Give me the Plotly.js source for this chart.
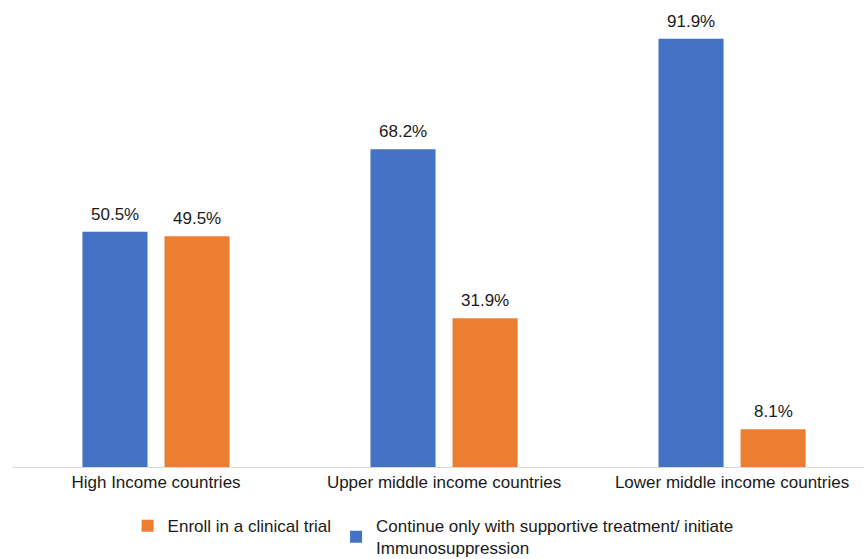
<!DOCTYPE html>
<html>
<head>
<meta charset="utf-8">
<script src="https://cdn.plot.ly/plotly-3.0.1.min.js"></script>
<style>
  html, body { margin: 0; padding: 0; background: #fff; }
  #chart { width: 864px; height: 559px; }
</style>
</head>
<body>
<div id="chart"></div>
<script>
// Income groups and share of responses per management option (%)
const categories = ["High Income countries", "Upper middle income countries", "Lower middle income countries"];
const supportive = [50.5, 68.2, 91.9];
const clinicalTrial = [49.5, 31.9, 8.1];
const supportiveName = "Continue only with supportive treatment/ initiate<br>Immunosuppression";
const trialName = "Enroll in a clinical trial";

const labelFont = { family: "Liberation Sans, Arial, sans-serif", size: 17, color: "#1a1a1a" };
const fmt = v => v.toFixed(1) + "%";

const traces = [
  {
    type: "bar",
    name: supportiveName,
    x: categories,
    y: supportive,
    marker: { color: "#4472C4" },
    legendrank: 2,
    hoverinfo: "skip"
  },
  {
    type: "bar",
    name: trialName,
    x: categories,
    y: clinicalTrial,
    marker: { color: "#ED7D31" },
    legendrank: 1,
    hoverinfo: "skip"
  }
];

// Value labels sit above each bar; the two bars of a group are offset
// half a bar slot to either side of the category centre.
const slotShift = 41;
const valueLabels = [];
[[supportive, -slotShift], [clinicalTrial, slotShift]].forEach(([vals, dx]) => {
  vals.forEach((v, i) => {
    valueLabels.push({
      x: categories[i],
      y: v,
      xref: "x",
      yref: "y",
      text: fmt(v),
      showarrow: false,
      xanchor: "center",
      yanchor: "bottom",
      xshift: dx,
      yshift: 6,
      font: labelFont
    });
  });
});

const layout = {
  width: 864,
  height: 559,
  margin: { l: 12, r: 0, t: 1, b: 92, autoexpand: false },
  paper_bgcolor: "#ffffff",
  plot_bgcolor: "#ffffff",
  font: labelFont,
  barmode: "group",
  bargap: 0.43,
  bargroupgap: 0.207,
  showlegend: true,
  legend: {
    orientation: "h",
    xref: "container",
    yref: "container",
    x: 0.1477,
    xanchor: "left",
    y: 0.091,
    yanchor: "top",
    font: labelFont,
    itemwidth: 30,
    tracegroupgap: 0
  },
  annotations: valueLabels,
  xaxis: {
    type: "category",
    range: [-0.5, 2.458],
    showgrid: false,
    showline: true,
    linecolor: "#D9D9D9",
    linewidth: 1,
    ticks: "",
    tickfont: labelFont,
    fixedrange: true
  },
  yaxis: {
    range: [0, 100],
    showgrid: false,
    showline: false,
    zeroline: false,
    showticklabels: false,
    ticks: "",
    fixedrange: true
  }
};

Plotly.newPlot("chart", traces, layout, { displayModeBar: false, staticPlot: true });
</script>
</body>
</html>
